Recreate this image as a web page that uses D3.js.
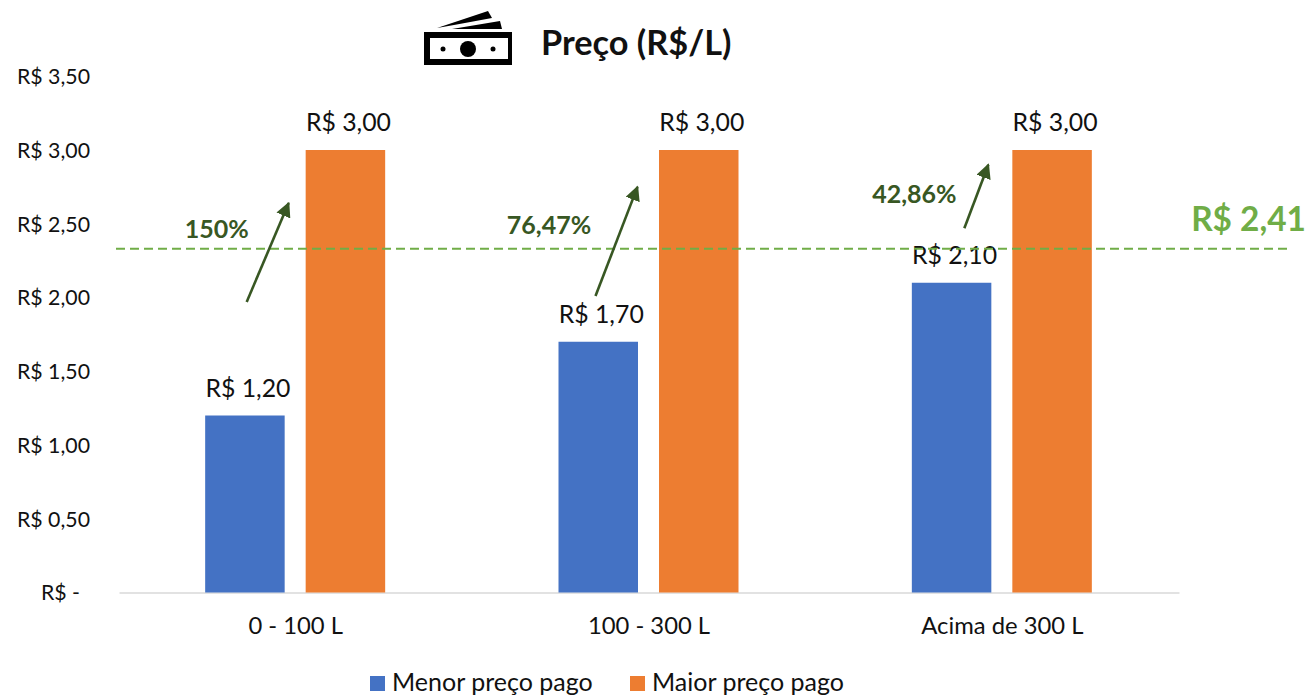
<!DOCTYPE html>
<html><head><meta charset="utf-8">
<script src="https://cdn.jsdelivr.net/npm/d3@7"></script>
<style>html,body{margin:0;padding:0;background:#fff}svg{display:block}text{font-family:Lato,"Open Sans",sans-serif}</style>
</head><body><svg id="c" width="1307" height="695"></svg>
<script>
const categories = ["0 - 100 L", "100 - 300 L", "Acima de 300 L"];
const seriesNames = ["Menor preço pago", "Maior preço pago"];
const menorPreco = [1.20, 1.70, 2.10];
const maiorPreco = [3.00, 3.00, 3.00];
const tickValues = [0, 0.5, 1, 1.5, 2, 2.5, 3, 3.5];
const tickLabels = ["R$ -", "R$ 0,50", "R$ 1,00", "R$ 1,50", "R$ 2,00", "R$ 2,50", "R$ 3,00", "R$ 3,50"];
const barLabels = [["R$ 1,20","R$ 1,70","R$ 2,10"],["R$ 3,00","R$ 3,00","R$ 3,00"]];
const pctLabels = ["150%", "76,47%", "42,86%"];
const refLineValue = 2.33;
const refLabel = "R$ 2,41";
const title = "Preço (R$/L)";
const colors = ["#4472C4", "#ED7D31"];
const green = "#70AD47", darkGreen = "#385723", gray = "#D9D9D9", ink = "#111";

const svg = d3.select("#c");
const x = d3.scaleBand().domain(categories).range([119, 1179]);
const y = d3.scaleLinear().domain([0, 3.5]).range([592.5, 76.25]);
const inner = d3.scaleBand().domain([0, 1]).range([-90.5, 89.5]).paddingInner(0.209);
const cx = c => x(c) + x.bandwidth() / 2;

// y axis
const yAxis = d3.axisLeft(y).tickValues(tickValues).tickSize(0).tickFormat((d, i) => tickLabels[i]);
const yg = svg.append("g").attr("transform", "translate(90,0)").call(yAxis);
yg.select(".domain").remove();
yg.selectAll("text").attr("x", 0).attr("font-size", 21.3).attr("fill", ink)
  .attr("text-anchor", "end").attr("dy", "0.35em").style("font-family", "Lato");
yg.selectAll("text").filter(d => d === 0).attr("x", -10);

// x axis
const xAxis = d3.axisBottom(x).tickSize(0);
const xg = svg.append("g").attr("transform", `translate(0,${y(0)})`).call(xAxis);
xg.select(".domain").attr("stroke", gray).attr("stroke-width", 1.5);
xg.selectAll("text").attr("y", 33).attr("dy", "0.35em").attr("font-size", 23.8).attr("fill", ink).style("font-family", "Lato");

// bars
[menorPreco, maiorPreco].forEach((vals, s) => {
  const g = svg.append("g");
  g.selectAll("rect").data(vals).join("rect")
    .attr("x", (d, i) => cx(categories[i]) + inner(s))
    .attr("width", inner.bandwidth())
    .attr("y", d => y(d))
    .attr("height", d => y(0) - y(d))
    .attr("fill", colors[s]);
  g.selectAll("text").data(vals).join("text")
    .attr("x", (d, i) => cx(categories[i]) + inner(s) + inner.bandwidth() / 2 + 3)
    .attr("y", d => y(d) - 19)
    .attr("text-anchor", "middle").attr("font-size", 24.8).attr("fill", ink)
    .text((d, i) => barLabels[s][i]);
});

// reference line
svg.append("line").attr("x1", 116).attr("x2", 1288).attr("y1", y(refLineValue)).attr("y2", y(refLineValue))
  .attr("stroke", green).attr("stroke-width", 2).attr("stroke-dasharray", "9 5");
svg.append("text").attr("x", 1306).attr("y", 231).attr("text-anchor", "end")
  .attr("font-size", 33.4).attr("font-weight", 700).attr("fill", green).text(refLabel);

// arrows (start / end in chart values, offset from each category centre)
const arrowDx = [[-49, -7], [-53.5, -11.5], [-38, -14]];
const arrowY = [[1.97, 2.64], [2.01, 2.75], [2.47, 2.90]];
const defs = svg.append("defs");
defs.append("marker").attr("id", "ah").attr("viewBox", "0 0 10 10").attr("refX", 9).attr("refY", 5)
  .attr("markerWidth", 15).attr("markerHeight", 15).attr("markerUnits", "userSpaceOnUse").attr("orient", "auto")
  .append("path").attr("d", "M0,0L10,5L0,10Z").attr("fill", darkGreen);
categories.forEach((c, i) => {
  svg.append("line")
    .attr("x1", cx(c) + arrowDx[i][0]).attr("y1", y(arrowY[i][0]))
    .attr("x2", cx(c) + arrowDx[i][1]).attr("y2", y(arrowY[i][1]))
    .attr("stroke", darkGreen).attr("stroke-width", 2.6).attr("marker-end", "url(#ah)");
});
const pctPos = [[-79, 2.465], [-100, 2.49], [-88, 2.70]];
pctLabels.forEach((t, i) => {
  svg.append("text").attr("x", cx(categories[i]) + pctPos[i][0]).attr("y", y(pctPos[i][1]))
    .attr("text-anchor", "middle").attr("dy", "0.35em").attr("font-size", 25).attr("font-weight", 700)
    .attr("fill", darkGreen).text(t);
});

// title + icon
svg.append("text").attr("x", 541).attr("y", 55).attr("font-size", 34.3).attr("font-weight", 700).attr("fill", ink).text(title);
const icon = svg.append("g").attr("transform", "translate(424,11)");
icon.append("path").attr("fill-rule", "evenodd").attr("fill", "#000")
  .attr("d", "M0,21H88V54H0ZM6,27V48H84V27Z");
icon.append("circle").attr("cx", 44).attr("cy", 38).attr("r", 8);
icon.append("circle").attr("cx", 19).attr("cy", 38).attr("r", 2.5);
icon.append("circle").attr("cx", 69).attr("cy", 38).attr("r", 2.5);
icon.append("path").attr("d", "M13,17L64,0L68,7L30,14Z").attr("fill", "#000");
icon.append("path").attr("d", "M28,18L76,10L78,18Z").attr("fill", "#000");

// legend
const lg = svg.append("g");
const legendX = [370, 630];
seriesNames.forEach((n, i) => {
  lg.append("rect").attr("x", legendX[i]).attr("y", 676).attr("width", 15).attr("height", 15).attr("fill", colors[i]);
  lg.append("text").attr("x", legendX[i] + 22).attr("y", 691).attr("font-size", 25).attr("fill", ink).text(n);
});
</script></body></html>
